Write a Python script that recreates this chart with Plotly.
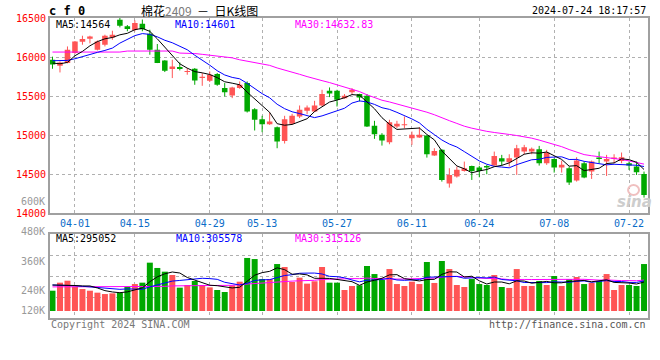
import plotly.graph_objects as go
import pandas as pd

# ---------------- data ----------------
dates = ["03-27", "03-28", "03-29",
         "04-01", "04-02", "04-03", "04-08", "04-09", "04-10", "04-11", "04-12",
         "04-15", "04-16", "04-17", "04-18", "04-19", "04-22", "04-23", "04-24", "04-25", "04-26",
         "04-29", "04-30", "05-06", "05-07", "05-08", "05-09", "05-10",
         "05-13", "05-14", "05-15", "05-16", "05-17", "05-20", "05-21", "05-22", "05-23", "05-24",
         "05-27", "05-28", "05-29", "05-30", "05-31", "06-03", "06-04", "06-05", "06-06", "06-07",
         "06-11", "06-12", "06-13", "06-14", "06-17", "06-18", "06-19", "06-20", "06-21",
         "06-24", "06-25", "06-26", "06-27", "06-28", "07-01", "07-02", "07-03", "07-04", "07-05",
         "07-08", "07-09", "07-10", "07-11", "07-12", "07-15", "07-16", "07-17", "07-18", "07-19",
         "07-22", "07-23", "07-24"]

open_ = [15965, 15888, 15925, 16051, 16196, 16235, 16094, 16158, 16251, 16478,
         16395, 16345, 16425, 16299, 16094, 15957, 15846, 15872, 15808, 15850,
         15731, 15697, 15782, 15603, 15509, 15603, 15667, 15333, 15205, 15141,
         15103, 14927, 15145, 15239, 15312, 15303, 15380, 15568, 15568, 15474,
         15551, 15526, 15504, 15120, 15004, 14910, 15111, 15128, 14961, 14970,
         14996, 14739, 14812, 14381, 14470, 14543, 14607, 14585, 14607, 14611,
         14705, 14654, 14714, 14790, 14790, 14820, 14641, 14696, 14585, 14577,
         14419, 14641, 14534, 14714, 14662, 14696, 14671, 14641, 14598, 14504]
high = [16005, 15944, 16136, 16205, 16273, 16273, 16213, 16286, 16337, 16500,
        16410, 16470, 16480, 16350, 16167, 15960, 15966, 15932, 15859, 15859,
        15795, 15816, 15795, 15667, 15620, 15688, 15688, 15346, 15248, 15291,
        15111, 15248, 15274, 15380, 15380, 15440, 15581, 15611, 15581, 15526,
        15603, 15530, 15526, 15184, 15026, 15197, 15184, 15239, 15047, 15103,
        15000, 14833, 14820, 14577, 14598, 14662, 14610, 14607, 14620, 14790,
        14748, 14756, 14876, 14876, 14842, 14863, 14812, 14705, 14675, 14598,
        14718, 14662, 14675, 14790, 14748, 14756, 14778, 14662, 14662, 14534]
low = [15850, 15803, 15920, 16040, 16158, 16175, 16085, 16136, 16222, 16380,
       16330, 16330, 16330, 16030, 15923, 15808, 15731, 15829, 15774, 15645,
       15632, 15680, 15632, 15496, 15474, 15594, 15290, 15060, 15038, 15132,
       14833, 14893, 15132, 15218, 15269, 15295, 15368, 15487, 15367, 15466,
       15526, 15432, 15105, 14953, 14867, 14884, 15090, 15090, 14876, 14966,
       14713, 14735, 14406, 14329, 14457, 14534, 14427, 14461, 14500, 14611,
       14611, 14598, 14491, 14756, 14756, 14611, 14620, 14521, 14521, 14363,
       14406, 14449, 14440, 14641, 14478, 14641, 14641, 14555, 14491, 14201]
close = [15905, 15931, 16094, 16200, 16231, 16264, 16200, 16273, 16286, 16401,
         16360, 16435, 16355, 16094, 15923, 15825, 15880, 15846, 15816, 15701,
         15748, 15773, 15645, 15551, 15611, 15645, 15303, 15197, 15141, 15175,
         14919, 15205, 15248, 15325, 15355, 15380, 15526, 15534, 15453, 15504,
         15581, 15483, 15111, 15013, 14932, 15167, 15145, 15137, 15004, 15004,
         14756, 14799, 14427, 14491, 14556, 14577, 14543, 14543, 14585, 14735,
         14662, 14705, 14833, 14846, 14825, 14641, 14778, 14585, 14620, 14393,
         14675, 14457, 14662, 14696, 14696, 14714, 14718, 14611, 14526, 14235]
volume = [207000, 289000, 309000, 248000, 224000, 207000, 187000, 173000, 180000, 187000,
          248000, 275000, 289000, 493000, 439000, 401000, 367000, 238000, 265000, 306000,
          265000, 241000, 214000, 194000, 262000, 299000, 541000, 530000, 326000, 326000,
          479000, 449000, 296000, 340000, 279000, 303000, 449000, 289000, 289000, 214000,
          255000, 262000, 459000, 377000, 316000, 428000, 275000, 255000, 299000, 275000,
          500000, 286000, 510000, 428000, 265000, 245000, 326000, 275000, 265000, 367000,
          245000, 235000, 428000, 255000, 255000, 306000, 265000, 357000, 255000, 326000,
          347000, 275000, 286000, 306000, 377000, 214000, 265000, 265000, 255000, 479000]

# moving-average values at the start of the chart (window reaches before the first candle)
ma5_head = [15923, 15914, 15931, 16017]
ma10_head = [15953, 15953, 15957, 15978, 16008, 16030, 16060, 16085, 16115]
ma30_head = [16064] * 10 + [16077] * 7 + [16051, 16051, 16045, 16035, 16025, 16012,
                                          16000, 15990, 15965, 15945, 15925, 15905]
vma5_head = [265000, 265000, 263000, 260000]
vma10_head = [265000, 265000, 262000, 258000, 252000, 245000, 237000, 230000, 224000]
vma30_head = [246000] * 10 + [251000] * 6 + [256000] * 5 + [262000] * 4 + [270000, 276000, 282000, 287000]

tick_dates = ["04-01", "04-15", "04-29", "05-13", "05-27", "06-11", "06-24", "07-08", "07-22"]
price_ticks = [14000, 14500, 15000, 15500, 16000, 16500]
vol_labels = ["600K", "480K", "360K", "240K", "120K"]
legend_price = ["MA5:14564", "MA10:14601", "MA30:14632.83"]
legend_vol = ["MA5:295052", "MA10:305578", "MA30:315126"]

# ---------------- styling ----------------
MONO = "DejaVu Sans Mono"
RED, GREEN = "#ff5555", "#00a800"
BLUE_TXT = "#0a6cc8"
MA_COLORS = ["#000000", "#0000ff", "#ff00ff"]
W, H = 660, 360
L, R, T, B = 50, 10, 18, 42


def px(x):
    return (x - L) / (W - L - R)


def py(y):
    return (H - B - y) / (H - T - B)


def moving(values, win, head):
    s = pd.Series(values, dtype=float).rolling(win).mean().tolist()
    return list(head) + s[len(head):]


n = len(dates)
idx = list(range(n))
colors = [RED if c >= o else GREEN for o, c in zip(open_, close)]
tick_idx = [dates.index(d) for d in tick_dates]

fig = go.Figure()

# wicks
for col in (RED, GREEN):
    wx, wy = [], []
    for i in idx:
        if colors[i] == col:
            wx += [i, i, None]
            wy += [low[i], high[i], None]
    fig.add_trace(go.Scatter(x=wx, y=wy, mode="lines", line=dict(color=col, width=1),
                             xaxis="x", yaxis="y", hoverinfo="skip"))

# bodies
fig.add_trace(go.Bar(x=idx,
                     y=[max(abs(c - o), 12) for o, c in zip(open_, close)],
                     base=[min(o, c) for o, c in zip(open_, close)],
                     width=0.74, marker=dict(color=colors, line=dict(width=0)),
                     xaxis="x", yaxis="y", hoverinfo="skip"))

# price MAs
for vals, col in ((moving(close, 30, ma30_head), MA_COLORS[2]),
                  (moving(close, 10, ma10_head), MA_COLORS[1]),
                  (moving(close, 5, ma5_head), MA_COLORS[0])):
    fig.add_trace(go.Scatter(x=idx, y=vals, mode="lines", line=dict(color=col, width=1),
                             xaxis="x", yaxis="y", hoverinfo="skip"))

# volume
fig.add_trace(go.Bar(x=idx, y=volume, width=0.8,
                     marker=dict(color=colors, line=dict(width=0)),
                     xaxis="x2", yaxis="y2", hoverinfo="skip"))
for vals, col in ((moving(volume, 30, vma30_head), MA_COLORS[2]),
                  (moving(volume, 10, vma10_head), MA_COLORS[1]),
                  (moving(volume, 5, vma5_head), MA_COLORS[0])):
    fig.add_trace(go.Scatter(x=idx, y=vals, mode="lines", line=dict(color=col, width=1),
                             xaxis="x2", yaxis="y2", hoverinfo="skip"))

grid = dict(showgrid=True, gridcolor="#b0b0b0", griddash="dot", gridwidth=1,
            zeroline=False, showline=True, mirror=True, linecolor="#a0a0a0",
            linewidth=2, ticks="")

vol_range = [-71400, 782300]
vol_grid = [vol_range[0] + (vol_range[1] - vol_range[0]) * k / 4 for k in (1, 2, 3)]
x_range = [-0.333, n - 0.47]

fig.update_layout(
    width=W, height=H,
    margin=dict(l=L, r=R, t=T, b=B),
    paper_bgcolor="white", plot_bgcolor="white",
    showlegend=False, barmode="overlay", hovermode=False,
    xaxis=dict(domain=[0, 1], range=x_range, anchor="y", tickmode="array",
               tickvals=tick_idx, ticktext=tick_dates,
               tickfont=dict(family=MONO, size=10, color=BLUE_TXT), **grid),
    yaxis=dict(domain=[0.349, 1], range=[14000, 16500], tickmode="array",
               tickvals=price_ticks, ticktext=[str(v) for v in price_ticks],
               tickfont=dict(family=MONO, size=10, color="#ff0000"), **grid),
    xaxis2=dict(domain=[0, 1], range=x_range, anchor="y2", matches="x",
                tickmode="array", tickvals=tick_idx, showticklabels=False, **grid),
    yaxis2=dict(domain=[0, 0.279], range=vol_range, tickmode="array",
                tickvals=vol_grid, showticklabels=False, **grid),
)

ann = []


def text(t, x, y, color="#000000", size=10, xanchor="left", family=MONO):
    ann.append(dict(text=t, x=px(x), y=py(y), xref="paper", yref="paper",
                    xanchor=xanchor, yanchor="middle", showarrow=False,
                    font=dict(family=family, size=size, color=color)))


text("<b>c f 0</b>", 47, 11, size=12)
text("棉花<span style='color:#7a7a7a'>2409</span>  －  日K线图", 200, 10,
     size=12, xanchor="center", family="Noto Sans CJK SC")
text("2024-07-24 18:17:57", 650, 11, xanchor="right")

for t, x, col in zip(legend_price, (54, 173, 294), MA_COLORS):
    text(t, x, 24, color=col)
for t, x, col in zip(legend_vol, (54, 174, 294), MA_COLORS):
    text(t, x, 238.5, color=col)

for t, y in zip(vol_labels, (201, 231, 261, 290, 310)):
    text(t, 47, y, color="#999999", xanchor="right")

text("Copyright 2024 SINA.COM", 49, 324, color="#777777")
text("http://finance.sina.com.cn", 650, 324, color="#555555", xanchor="right")

# watermark: "sina" text with the eye logo drawn as a shape
text("<b><i>sina</i></b>", 636, 202, color="#cdcdcd", size=15, xanchor="center",
     family="DejaVu Sans")
fig.add_shape(type="circle", xref="paper", yref="paper",
              x0=px(630), x1=px(641), y0=py(195), y1=py(185),
              line=dict(color="#f0c0c0", width=2), fillcolor="rgba(0,0,0,0)")

fig.update_layout(annotations=ann)
fig.write_html("out.html",
               config={"displayModeBar": False, "staticPlot": True},
               post_script="document.body.style.margin='0';document.body.style.padding='0';")
